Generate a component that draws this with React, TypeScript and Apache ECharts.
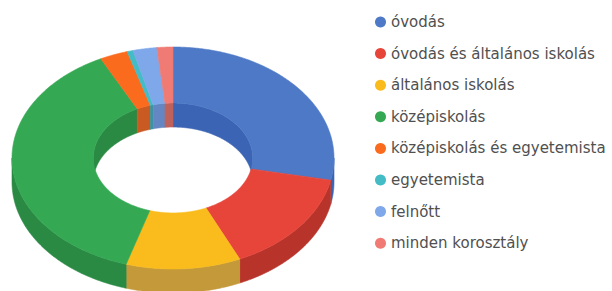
import React, { useEffect, useRef } from "react";
import * as echarts from "echarts";

const categories = [
  "óvodás",
  "óvodás és általános iskolás",
  "általános iskolás",
  "középiskolás",
  "középiskolás és egyetemista",
  "egyetemista",
  "felnőtt",
  "minden korosztály",
];
const values = [28.2, 15.0, 11.5, 37.9, 2.8, 0.6, 2.4, 1.6];

const topColors = ["#4e79c6", "#e8453a", "#f9bc1c", "#34a853", "#fa6b1d", "#44bcc6", "#7ea8ea", "#ef7b74"];
const sideColors = ["#3b64b4", "#b8342b", "#c4993a", "#2a8a44", "#c85a22", "#35969e", "#6486c2", "#c0625c"];

const CX = 173;
const CY = 158;
const RX = 161;
const RY = 111;
const INNER = 0.495;
const DEPTH = 24;

function pt(theta: number, r: number, dy: number): number[] {
  return [CX + RX * r * Math.sin(theta), CY - RY * r * Math.cos(theta) + dy];
}

function arc(a0: number, a1: number, r: number, dy: number): number[][] {
  const pts: number[][] = [];
  const n = Math.max(2, Math.ceil(Math.abs(a1 - a0) / (Math.PI / 360)));
  for (let i = 0; i <= n; i++) {
    pts.push(pt(a0 + ((a1 - a0) * i) / n, r, dy));
  }
  return pts;
}

function clip(a0: number, a1: number, lo: number, hi: number): number[] | null {
  const s = Math.max(a0, lo);
  const e = Math.min(a1, hi);
  return e > s ? [s, e] : null;
}

export default function App() {
  const ref = useRef<HTMLDivElement>(null);
  useEffect(() => {
    if (!ref.current) return;
    const chart = echarts.init(ref.current, undefined, { renderer: "svg" });
    const total = values.reduce((a, b) => a + b, 0);
    let acc = 0;
    const series = categories.map((name, i) => {
      const start = acc / total;
      acc += values[i];
      const end = acc / total;
      return {
        type: "custom",
        name,
        coordinateSystem: "none",
        silent: true,
        itemStyle: { color: topColors[i] },
        data: [[start, end]],
        renderItem: (params: any, api: any) => {
          const a0 = api.value(0) * Math.PI * 2;
          const a1 = api.value(1) * Math.PI * 2;
          const children: any[] = [];
          const wallStyle = { fill: sideColors[i], stroke: sideColors[i], lineWidth: 0.6 };
          const o = clip(a0, a1, Math.PI / 2, (3 * Math.PI) / 2);
          if (o) {
            const pts = arc(o[0], o[1], 1, 0).concat(arc(o[1], o[0], 1, DEPTH));
            children.push({ type: "polygon", z2: 1, shape: { points: pts }, style: wallStyle });
          }
          const segs = [clip(a0, a1, 0, Math.PI / 2), clip(a0, a1, (3 * Math.PI) / 2, Math.PI * 2)];
          segs.forEach((s) => {
            if (s) {
              const pts = arc(s[0], s[1], INNER, 0).concat(arc(s[1], s[0], INNER, DEPTH));
              children.push({ type: "polygon", z2: 1, shape: { points: pts }, style: wallStyle });
            }
          });
          const top = arc(a0, a1, 1, 0).concat(arc(a1, a0, INNER, 0));
          children.push({
            type: "polygon",
            z2: 10,
            shape: { points: top },
            style: { fill: topColors[i], stroke: topColors[i], lineWidth: 0.6 },
          });
          return { type: "group", children };
        },
      };
    });

    chart.setOption({
      animation: false,
      color: topColors,
      legend: {
        orient: "vertical",
        left: 370,
        top: 9,
        icon: "circle",
        itemWidth: 11,
        itemHeight: 11,
        itemGap: 15.6,
        data: categories,
        textStyle: {
          fontFamily: "DejaVu Sans",
          fontSize: 15,
          color: "#505050",
          lineHeight: 16,
        },
      },
      series,
    });
    return () => chart.dispose();
  }, []);
  return (
    <div
      ref={ref}
      style={{ position: "absolute", left: 0, top: 0, width: 612, height: 291, background: "#fff" }}
    />
  );
}
